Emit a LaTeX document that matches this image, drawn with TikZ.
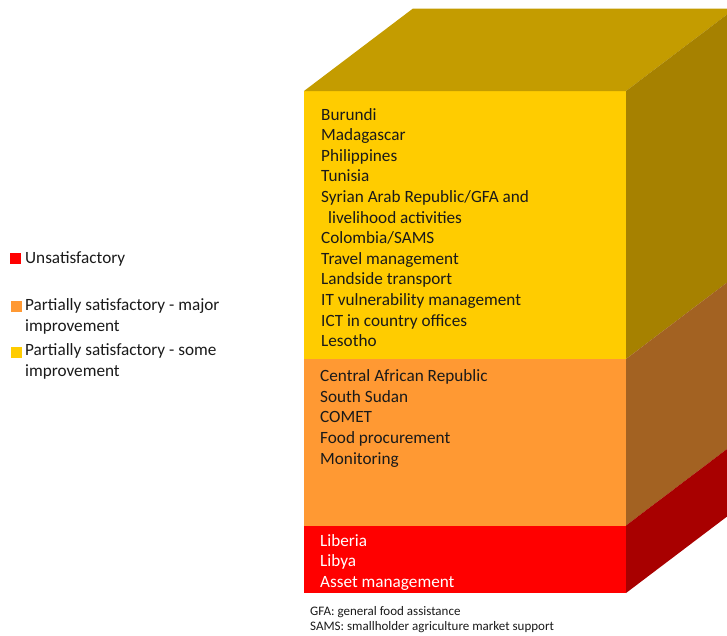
\documentclass[tikz,border=0pt]{standalone}
\usepackage{fontspec}
\setmainfont{Carlito}
\usetikzlibrary{calc}

\definecolor{yelfront}{HTML}{FFCC00}
\definecolor{orafront}{HTML}{FF9933}
\definecolor{redfront}{HTML}{FF0000}
\definecolor{yeltop}{HTML}{C49C00}
\definecolor{yelside}{HTML}{A68100}
\definecolor{oraside}{HTML}{A36222}
\definecolor{redside}{HTML}{A80000}
\definecolor{ink}{HTML}{1A1A1A}

\tikzset{
    item/.style={anchor=base west, inner sep=0pt, text=ink, font=\fontsize{17.2}{20}\selectfont},
    legsq/.style={inner sep=0pt, minimum size=11pt},
    note/.style={anchor=base west, inner sep=0pt, text=ink, font=\fontsize{13}{15}\selectfont}
}

\begin{document}
\begin{tikzpicture}[x=1pt,y=-1pt]

    \useasboundingbox (0,0) rectangle (727,635);
    \clip (0,0) rectangle (727,635);

    % Define the points of the block
    \coordinate (A) at (304,91);
    \coordinate (B) at (626,91);
    \coordinate (YO) at (304,359);
    \coordinate (YOr) at (626,359);
    \coordinate (OR) at (304,525.5);
    \coordinate (ORr) at (626,525.5);
    \coordinate (D) at (304,593);
    \coordinate (C) at (626,593);

    % Draw the front faces
    \fill[yelfront] (A) rectangle (YOr);
    \fill[orafront] (YO) rectangle (ORr);
    \fill[redfront] (OR) rectangle (C);

    % Draw the top and the right side
    \fill[yeltop] (A) -- (B) -- ($(B)+(109,-82.5)$) -- ($(A)+(109,-82.5)$) -- cycle;
    \fill[yelside] (B) -- (YOr) -- ($(YOr)+(109,-82.5)$) -- ($(B)+(109,-82.5)$) -- cycle;
    \fill[oraside] (YOr) -- (ORr) -- ($(ORr)+(109,-82.5)$) -- ($(YOr)+(109,-82.5)$) -- cycle;
    \fill[redside] (ORr) -- (C) -- ($(C)+(109,-82.5)$) -- ($(ORr)+(109,-82.5)$) -- cycle;

    % Place the items on the front
    \foreach \txt [count=\i] in {Burundi, Madagascar, Philippines, Tunisia,
        Syrian Arab Republic/GFA and, \hspace{7pt}livelihood activities,
        Colombia/SAMS, Travel management, Landside transport,
        IT vulnerability management, ICT in country offices, Lesotho}
        \node[item] (yel\i) at ($(A)+(17,29+20.6*\i-20.6)$) {\txt};

    \foreach \txt [count=\i] in {Central African Republic, South Sudan, COMET,
        Food procurement, Monitoring}
        \node[item] (ora\i) at ($(YO)+(16,22.7+20.6*\i-20.6)$) {\txt};

    \foreach \txt [count=\i] in {Liberia, Libya, Asset management}
        \node[item, text=white] (red\i) at ($(OR)+(16,20.5+20.5*\i-20.5)$) {\txt};

    % Legend on the left
    \node[legsq, fill=redfront] (sqred) at (15.5,258) {};
    \node[legsq, fill=orafront] (sqora) at (16,306) {};
    \node[legsq, fill=yelfront] (sqyel) at (16,352.5) {};
    \node[item] (legred) at (25,263) {Unsatisfactory};
    \node[item] (legora) at (25,310.5) {Partially satisfactory - major};
    \node[item] (legora2) at (25,331.5) {improvement};
    \node[item] (legyel) at (25,355.5) {Partially satisfactory - some};
    \node[item] (legyel2) at (25,376.5) {improvement};

    % Notes below the block
    \node[note] (gfa) at (310,615) {GFA: general food assistance};
    \node[note] (sams) at (310,630) {SAMS: smallholder agriculture market support};

\end{tikzpicture}
\end{document}
